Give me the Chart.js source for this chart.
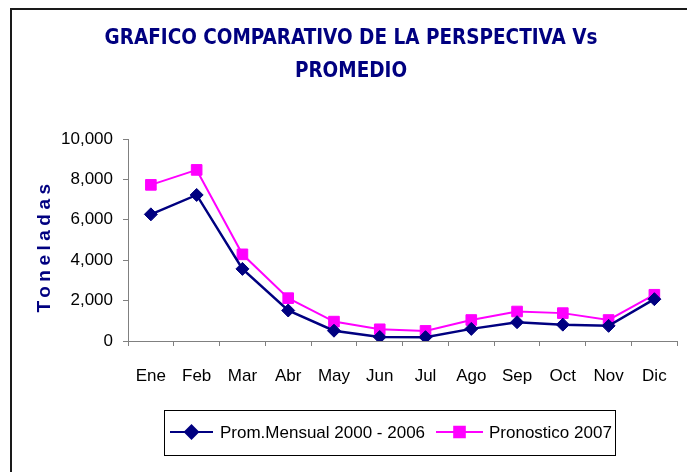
<!DOCTYPE html>
<html>
<head>
<meta charset="utf-8">
<script src="https://cdn.jsdelivr.net/npm/chart.js@4.4.1/dist/chart.umd.min.js"></script>
<style>
  body { margin: 0; background: #fff; }
  canvas { display: block; }
</style>
</head>
<body>
<canvas id="grafico" width="687" height="472"></canvas>
<script>
const meses = ['Ene', 'Feb', 'Mar', 'Abr', 'May', 'Jun', 'Jul', 'Ago', 'Sep', 'Oct', 'Nov', 'Dic'];
const promedio = [6270, 7230, 3570, 1510, 510, 200, 190, 600, 930, 810, 750, 2070];
const pronostico = [7730, 8470, 4290, 2120, 960, 580, 500, 1040, 1460, 1380, 1040, 2290];
const nombres = ['Prom.Mensual 2000 - 2006', 'Pronostico 2007'];
const titulo = ['GRAFICO COMPARATIVO DE LA PERSPECTIVA Vs', 'PROMEDIO'];
const tituloEje = 'Toneladas';

const SANS = "'Liberation Sans Narrow', 'Arial Narrow', 'Liberation Sans', sans-serif";

// marco, titulo del eje y leyenda a mano
const extras = {
    id: 'extras',
    beforeDraw(chart) {
        const ctx = chart.ctx;
        ctx.save();
        ctx.fillStyle = '#fff';
        ctx.fillRect(0, 0, chart.width, chart.height);
        ctx.strokeStyle = '#1a1a1a';
        ctx.lineWidth = 2;
        ctx.beginPath();
        ctx.moveTo(11, 472);
        ctx.lineTo(11, 9);
        ctx.lineTo(687, 9);
        ctx.stroke();
        ctx.restore();
    },
    afterDraw(chart) {
        const ctx = chart.ctx;
        ctx.save();
        // titulo eje Y
        ctx.translate(45, 248);
        ctx.rotate(-Math.PI / 2);
        ctx.font = "bold 19px 'Liberation Sans', sans-serif";
        ctx.letterSpacing = '4.5px';
        ctx.fillStyle = '#000080';
        ctx.textAlign = 'center';
        ctx.textBaseline = 'middle';
        ctx.fillText(tituloEje, 2, 0);
        ctx.restore();

        // leyenda
        ctx.save();
        ctx.strokeStyle = '#000';
        ctx.lineWidth = 1;
        ctx.strokeRect(164.5, 410.5, 451, 45);
        const items = [
            {x0: 170, x1: 213, tx: 220},
            {x0: 436, x1: 483, tx: 489}
        ];
        const y = 432;
        chart.data.datasets.forEach((ds, i) => {
            const it = items[i];
            ctx.strokeStyle = ds.borderColor;
            ctx.fillStyle = ds.borderColor;
            ctx.lineWidth = 2;
            ctx.beginPath();
            ctx.moveTo(it.x0, y);
            ctx.lineTo(it.x1, y);
            ctx.stroke();
            Chart.helpers.drawPoint(ctx, {
                pointStyle: ds.pointStyle,
                radius: ds.pointRadius,
                rotation: 0,
                borderWidth: 1
            }, (it.x0 + it.x1) / 2, y);
            ctx.fillStyle = '#000';
            ctx.font = '17px ' + SANS;
            ctx.textBaseline = 'middle';
            ctx.fillText(nombres[i], it.tx, y + 1);
        });
        ctx.restore();
    }
};

const chartData = {
    labels: meses,
    datasets: [{
        label: nombres[0],
        data: promedio,
        borderColor: '#000080',
        backgroundColor: '#000080',
        borderWidth: 2.5,
        pointStyle: 'rectRot',
        pointRadius: 6.5,
        pointBorderWidth: 1,
        tension: 0
    }, {
        label: nombres[1],
        data: pronostico,
        borderColor: '#ff00ff',
        backgroundColor: '#ff00ff',
        borderWidth: 2,
        pointStyle: 'rect',
        pointRadius: 7.5,
        pointBorderWidth: 1,
        tension: 0
    }]
};

const config = {
    type: 'line',
    data: chartData,
    options: {
        responsive: false,
        animation: false,
        layout: {
            padding: {top: 10, left: 22, right: 7, bottom: 81}
        },
        scales: {
            x: {
                offset: true,
                grid: {
                    offset: true,
                    drawOnChartArea: false,
                    tickLength: 5,
                    color: '#808080'
                },
                border: {color: '#808080', width: 1},
                ticks: {
                    color: '#000',
                    padding: 20,
                    maxRotation: 0,
                    font: {family: SANS, size: 17}
                },
                afterFit(scale) { scale.height = 50; }
            },
            y: {
                min: 0,
                max: 10000,
                grid: {
                    drawOnChartArea: false,
                    tickLength: 5,
                    color: '#808080'
                },
                border: {color: '#808080', width: 1},
                ticks: {
                    stepSize: 2000,
                    color: '#000',
                    padding: 10,
                    font: {family: SANS, size: 17}
                },
                afterFit(scale) { scale.width = 106; }
            }
        },
        plugins: {
            legend: {display: false},
            tooltip: {enabled: false},
            title: {
                display: true,
                text: titulo,
                color: '#000080',
                font: {family: "'DejaVu Sans Condensed', 'DejaVu Sans', sans-serif", weight: 'bold', size: 20.5, lineHeight: 33 / 20.5},
                padding: {top: 12, bottom: 51}
            }
        }
    },
    plugins: [extras]
};

const grafico = new Chart(document.getElementById('grafico').getContext('2d'), config);
</script>
</body>
</html>
